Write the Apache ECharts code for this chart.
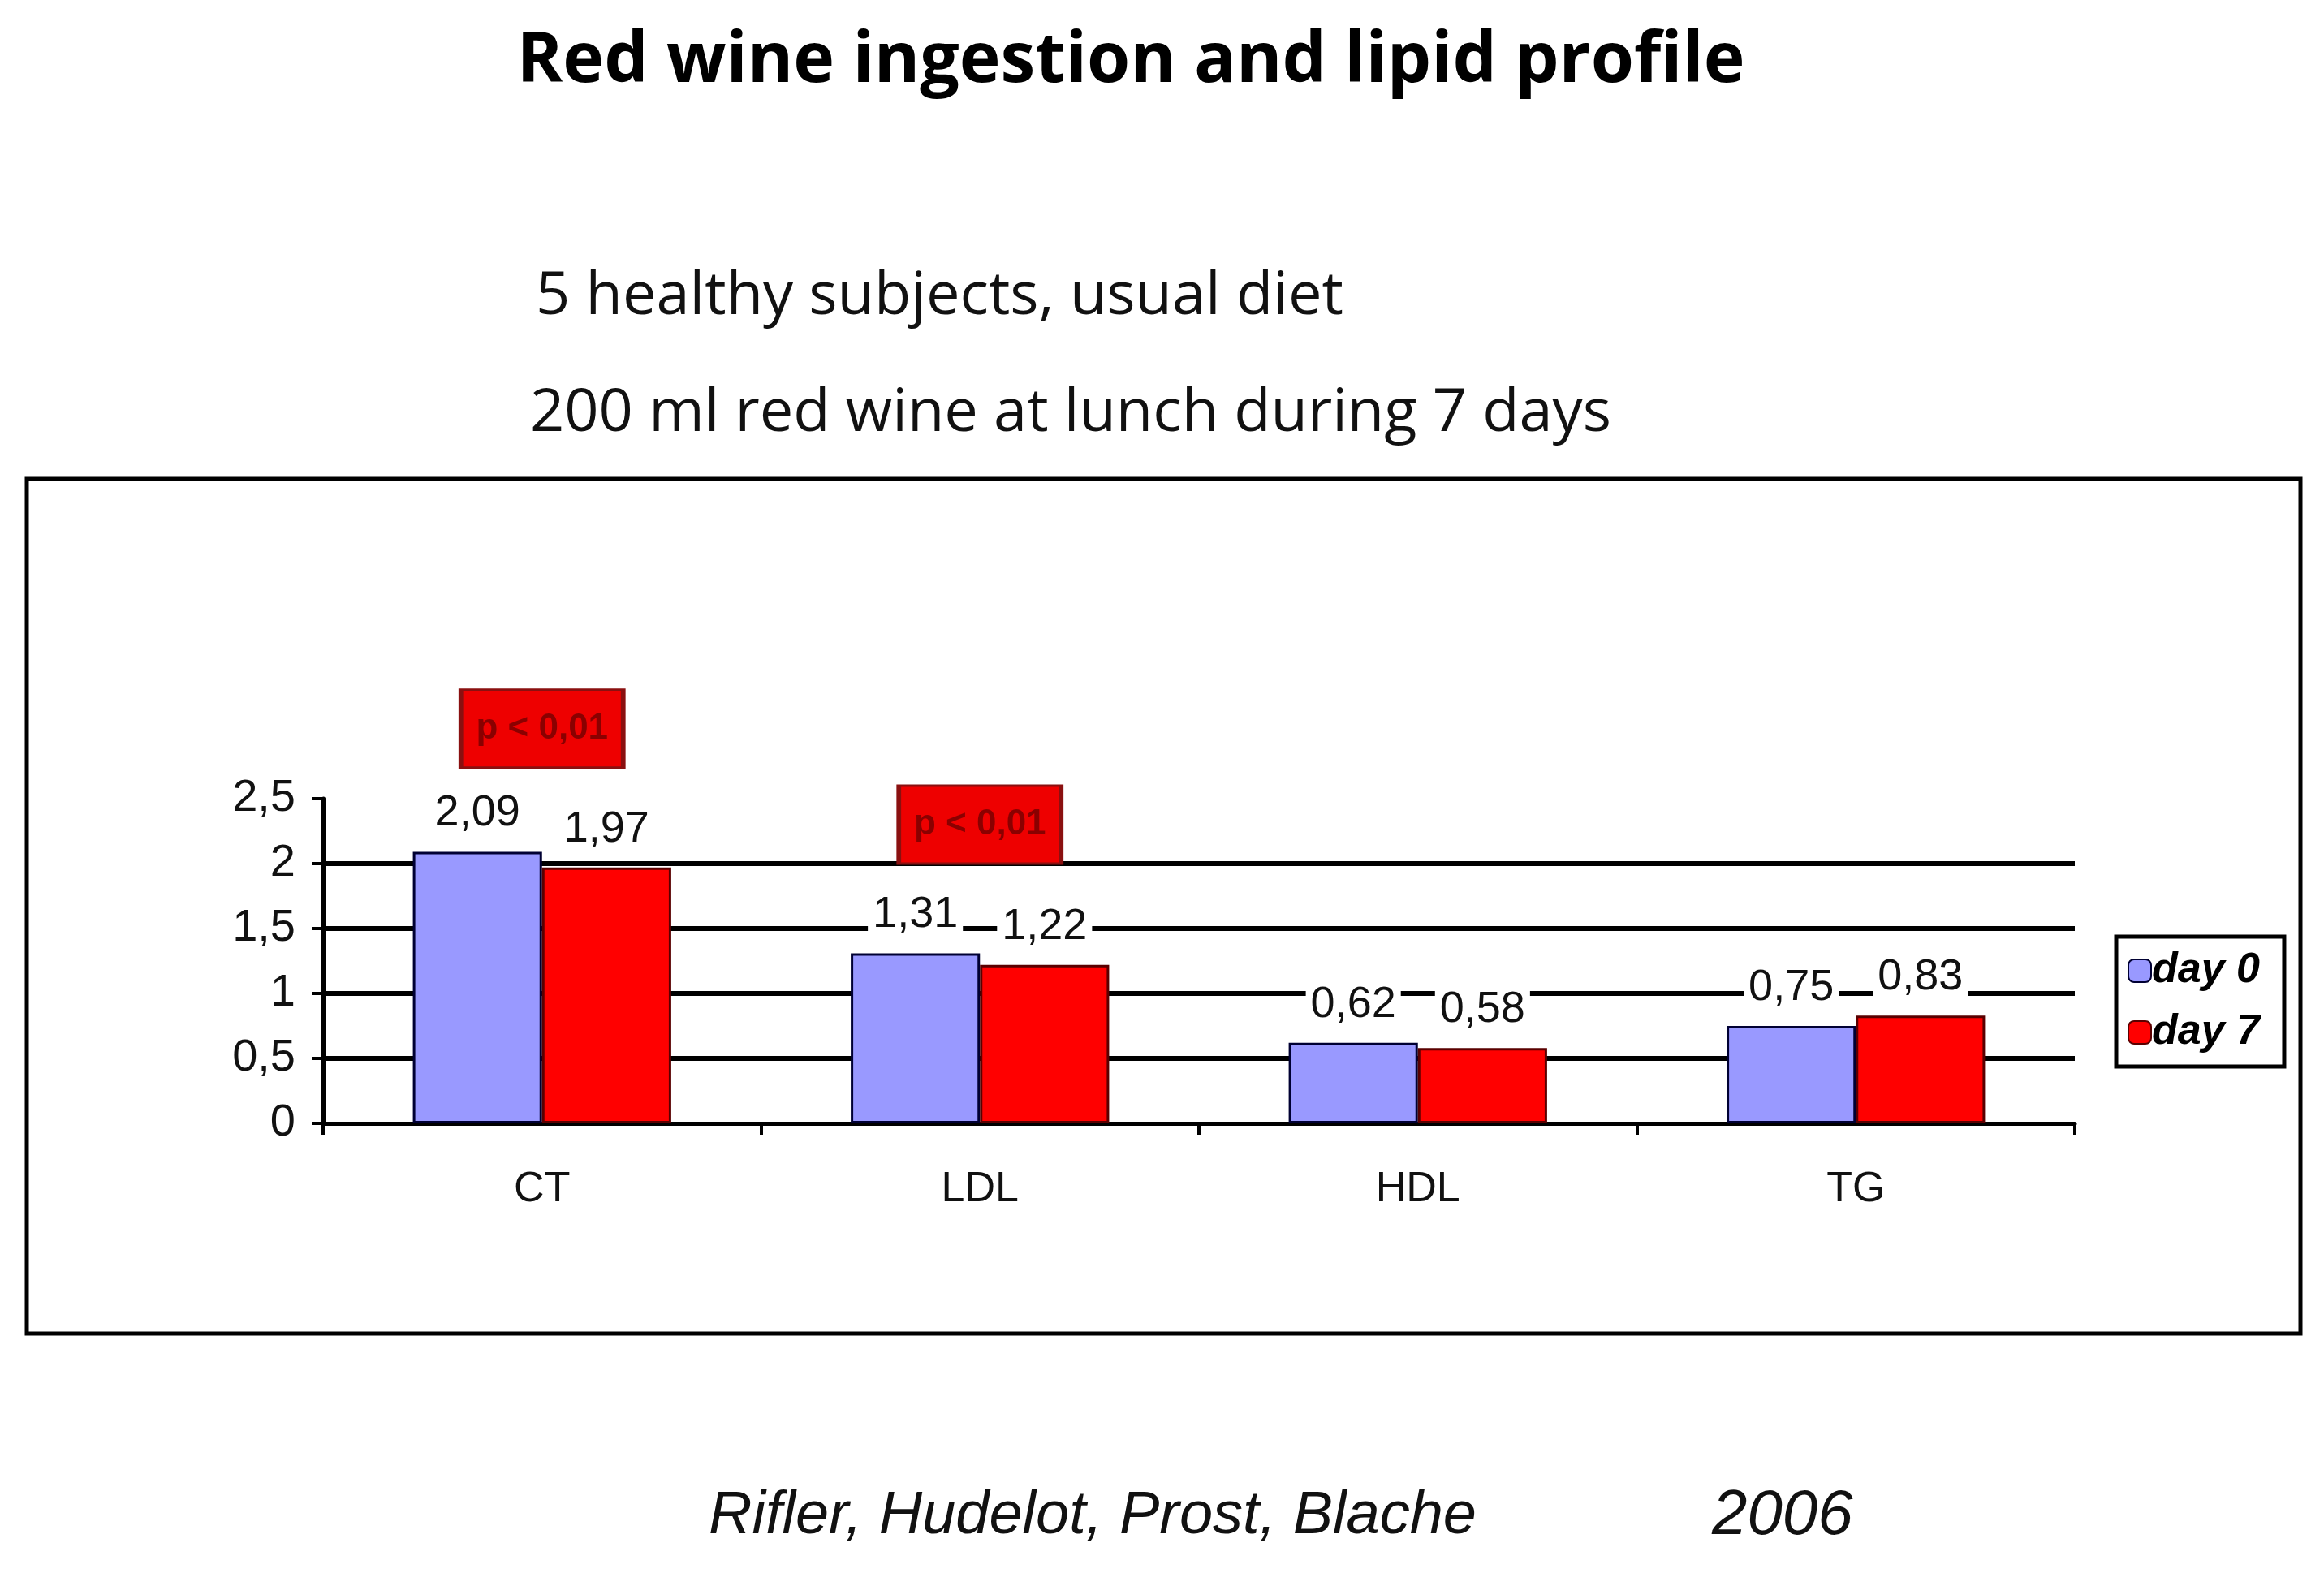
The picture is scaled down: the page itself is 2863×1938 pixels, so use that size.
<!DOCTYPE html>
<html>
<head>
<meta charset="utf-8">
<script src="https://cdn.jsdelivr.net/npm/echarts@6/dist/echarts.min.js"></script>
<style>html,body{margin:0;padding:0;background:#fff}#c{width:2863px;height:1938px}</style>
</head>
<body>
<div id="c"></div>
<script>
const categories = ['CT', 'LDL', 'HDL', 'TG'];
const seriesNames = ['day 0', 'day 7'];
const day0 = [2.09, 1.31, 0.62, 0.75];
const day7 = [1.97, 1.22, 0.58, 0.83];
const yTicks = [0, 0.5, 1, 1.5, 2, 2.5];
const pCategories = ['CT', 'LDL'];
const pLevels = [3.04, 2.30];
const pText = 'p < 0,01';
const titleText = 'Red wine ingestion and lipid profile';
const subtitle1 = '5 healthy subjects, usual diet';
const subtitle2 = '200 ml red wine at lunch during 7 days';
const credit = 'Rifler, Hudelot, Prost, Blache';
const creditYear = '2006';

const fmt = v => String(v).replace('.', ',');
const chart = echarts.init(document.getElementById('c'));
const labelCommon = {
  show: true, position: 'top', distance: 18,
  fontFamily: 'Liberation Sans', fontSize: 54, color: '#111',
  backgroundColor: '#fff', padding: [2, 6],
  formatter: p => fmt(p.value)
};
chart.setOption({
  backgroundColor: '#fff',
  animation: false,
  title: [
    { text: titleText, left: 1388, top: 28, textAlign: 'center',
      textStyle: { fontFamily: 'Open Sans', fontWeight: 'bold', fontSize: 86, color: '#000' } },
    { text: subtitle1, left: 655, top: 324,
      textStyle: { fontFamily: 'Open Sans', fontWeight: 'normal', fontSize: 74, color: '#111' } },
    { text: subtitle2, left: 648, top: 468,
      textStyle: { fontFamily: 'Open Sans', fontWeight: 'normal', fontSize: 74, color: '#111' } },
    { text: credit, left: 868, top: 1826,
      textStyle: { fontFamily: 'Liberation Sans', fontStyle: 'italic', fontWeight: 'normal', fontSize: 74, color: '#111' } },
    { text: creditYear, left: 2104, top: 1824,
      textStyle: { fontFamily: 'Liberation Sans', fontStyle: 'italic', fontWeight: 'normal', fontSize: 78, color: '#111' } }
  ],
  graphic: [
    { type: 'rect', shape: { x: 33, y: 590, width: 2801, height: 1053 },
      style: { fill: 'none', stroke: '#000', lineWidth: 5 }, z: 0 }
  ],
  legend: {
    data: seriesNames,
    orient: 'vertical', left: 2607, top: 1154,
    borderColor: '#000', borderWidth: 5, padding: [16, 30, 16, 14],
    itemGap: 24, itemWidth: 28, itemHeight: 28,
    textStyle: { fontFamily: 'Liberation Sans', fontStyle: 'italic', fontWeight: 'bold', fontSize: 52, color: '#000', padding: [0, 0, 0, -4] }
  },
  grid: { left: 398, right: 307, top: 984, bottom: 554, containLabel: false },
  xAxis: {
    type: 'category', data: categories,
    axisLine: { lineStyle: { color: '#000', width: 5 } },
    axisTick: { show: true, length: 14, lineStyle: { color: '#000', width: 4 } },
    axisLabel: { fontFamily: 'Liberation Sans', fontSize: 52, color: '#111', margin: 56 }
  },
  yAxis: {
    type: 'value', min: 0, max: 2.5, interval: 0.5,
    axisLine: { show: true, lineStyle: { color: '#000', width: 5 } },
    axisTick: { show: true, length: 14, lineStyle: { color: '#000', width: 4 } },
    axisLabel: { fontFamily: 'Liberation Sans', fontSize: 56, color: '#111', margin: 34, formatter: v => fmt(v) },
    splitLine: { show: true, showMinLine: false, showMaxLine: false, lineStyle: { color: '#000', width: 6 } }
  },
  series: [
    { name: seriesNames[0], type: 'bar', data: day0, barGap: '0%', barCategoryGap: '41%',
      itemStyle: { color: '#9999ff', borderColor: '#000033', borderWidth: 3 },
      label: labelCommon, z: 3 },
    { name: seriesNames[1], type: 'bar', data: day7,
      itemStyle: { color: '#ff0000', borderColor: '#5a0000', borderWidth: 3 },
      label: labelCommon, z: 3 },
    { name: 'p', type: 'scatter', clip: false, silent: true,
      data: pCategories.map((c, i) => [c, pLevels[i]]),
      symbol: 'rect', symbolSize: [200, 96],
      itemStyle: { color: '#ee0000', borderColor: '#8a1010', borderWidth: 4, opacity: 1 },
      label: { show: true, position: 'inside', formatter: pText,
        fontFamily: 'Liberation Sans', fontWeight: 'bold', fontSize: 44, color: '#8a0000' },
      z: 5 }
  ]
});
</script>
</body>
</html>
